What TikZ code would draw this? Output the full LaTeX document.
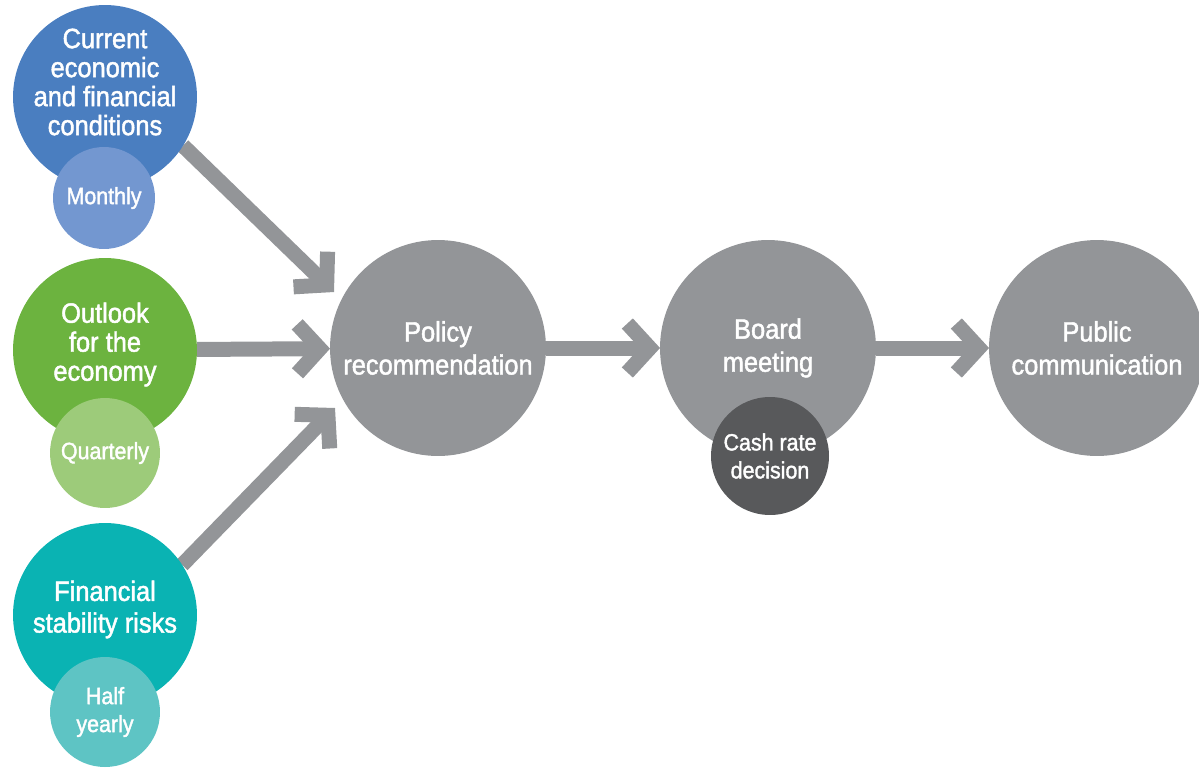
\documentclass[tikz,border=0pt]{standalone}
\usepackage{fontspec}
\setmainfont{Liberation Sans}[FakeStretch=0.91,FakeBold=1.6]
\usetikzlibrary{arrows.meta,backgrounds}
\definecolor{curblue}{HTML}{4A7EC0}
\definecolor{monthblue}{HTML}{7397D0}
\definecolor{outgreen}{HTML}{6CB33F}
\definecolor{quartgreen}{HTML}{9DCB7A}
\definecolor{finteal}{HTML}{0AB3B3}
\definecolor{halfteal}{HTML}{5EC4C4}
\definecolor{stepgray}{HTML}{939598}
\definecolor{cashgray}{HTML}{58595B}
\begin{document}
\begin{tikzpicture}
[x=0.02cm,y=-0.02cm,
  bignodedecorate/.style={shape=circle,inner sep=0pt,outer sep=0pt,minimum size=3.68cm},%
  mainnodedecorate/.style={shape=circle,inner sep=0pt,outer sep=0pt,minimum size=4.32cm,
    fill=stepgray,text=white,align=center,font=\fontsize{15.9}{18.8}\selectfont},%
  smallnodedecorate/.style={shape=circle,inner sep=0pt,outer sep=0pt,minimum size=2.2cm,
    text=white,align=center,font=\fontsize{13.4}{15.9}\selectfont},%
  textdecorate/.style={text=white,align=center,inner sep=0pt,font=\fontsize{15.9}{16.5}\selectfont},%
  arrowdecorate/.style={-{Straight Barb[length=0.45cm,width=0.98cm,sharp]},line width=0.3cm,draw=stepgray}]
\useasboundingbox (0,0) rectangle (1199,767);
\clip (0,0) rectangle (1199,767);
% nodes or vertices
\node (cur) at (105,97) [bignodedecorate,fill=curblue] {};
\node [textdecorate] at ([yshift=0.3cm]cur.center) {Current\\economic\\and financial\\conditions};
\node (month) at (104,198) [smallnodedecorate,fill=monthblue,minimum size=2.04cm] {Monthly};
\node (out) at (105,350) [bignodedecorate,fill=outgreen] {};
\node [textdecorate] at ([yshift=0.11cm]out.center) {Outlook\\for the\\economy};
\node (quart) at (105,453) [smallnodedecorate,fill=quartgreen] {Quarterly};
\node (fin) at (105,615) [bignodedecorate,fill=finteal] {};
\node [textdecorate,font=\fontsize{15.9}{18}\selectfont] at ([yshift=0.11cm]fin.center) {Financial\\stability risks};
\node (half) at (105,712) [smallnodedecorate,fill=halfteal] {Half\\yearly};
\node (policy) at (438,348) [mainnodedecorate] {Policy\\recommendation};
\node (board) at (768,348) [mainnodedecorate] {Board\\meeting};
\node (cash) at (770,456) [smallnodedecorate,fill=cashgray,minimum size=2.36cm] {Cash rate\\decision};
\node (public) at (1097,348) [mainnodedecorate] {Public\\communication};
\coordinate (curtip) at (334,292);
\coordinate (fintip) at (335,408);
% edges or lines
\begin{pgfonlayer}{background}
\path
(cur.-32) edge[arrowdecorate] (curtip)
(out) edge[arrowdecorate] (policy)
(fin.33) edge[arrowdecorate] (fintip)
(policy) edge[arrowdecorate] (board)
(board) edge[arrowdecorate] (public);
\end{pgfonlayer}
\end{tikzpicture}
\end{document}
